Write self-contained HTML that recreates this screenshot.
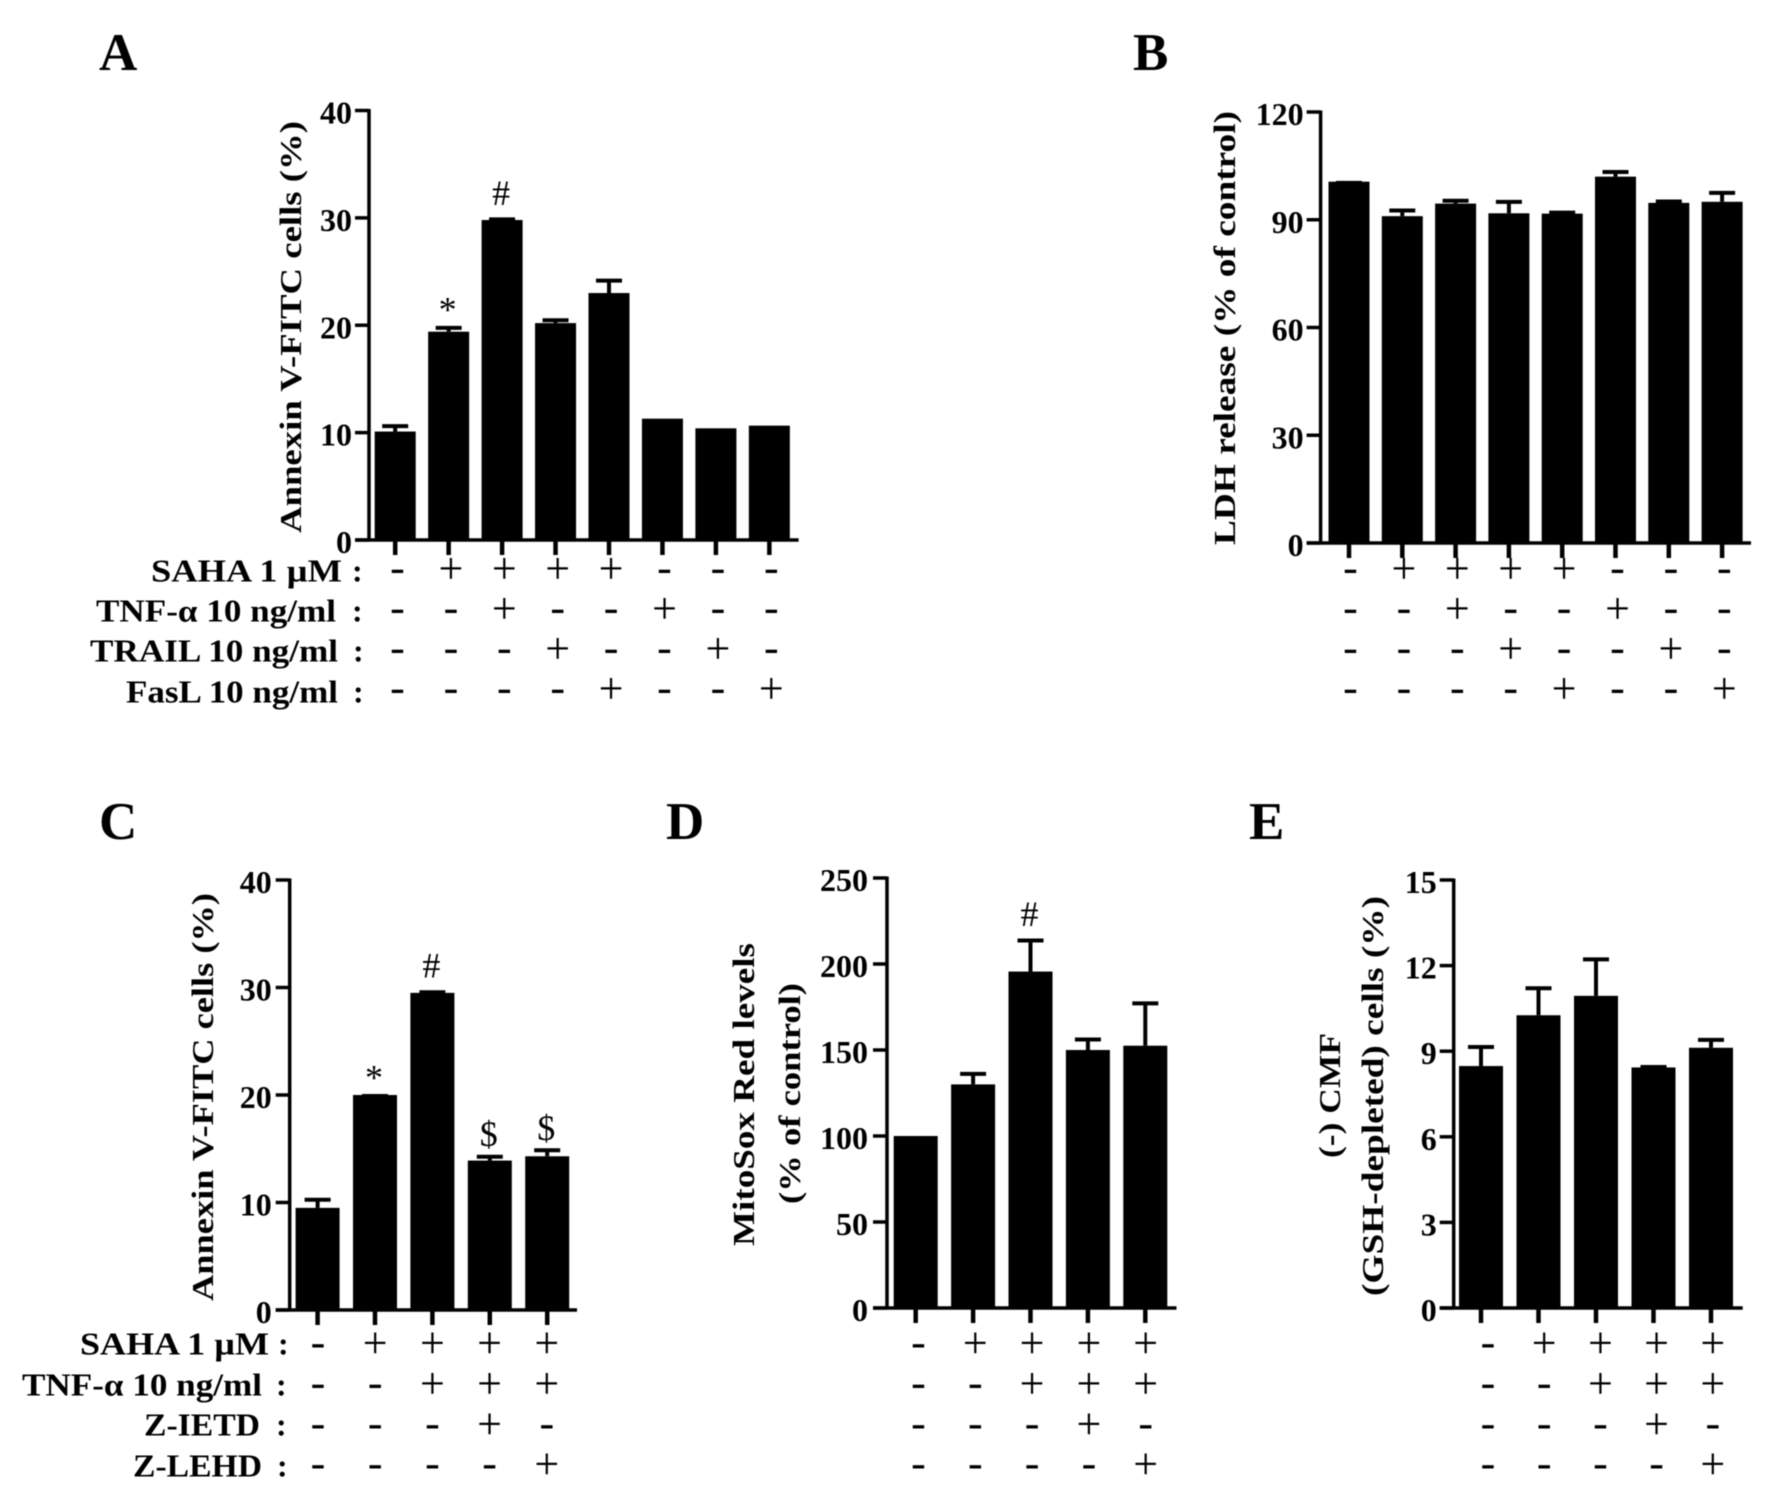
<!DOCTYPE html>
<html lang="en">
<head>
<meta charset="utf-8">
<title>Annexin V, LDH, MitoSox and CMF bar charts</title>
<style>
html,body{margin:0;padding:0;background:#fff;}
svg{display:block;filter:blur(0.5px);}
text{fill:#000;font-family:"Liberation Serif","Noto Serif CJK SC",serif;}
.t{font-weight:bold;font-size:31px;}
.r{font-weight:bold;font-size:32px;}
.l{font-weight:bold;font-size:53px;}
</style>
</head>
<body>
<svg xmlns="http://www.w3.org/2000/svg" width="1772" height="1507" viewBox="0 0 1772 1507">
  <rect width="1772" height="1507" fill="#fff"/>

  <text class="l" x="99" y="70">A</text>
  <text class="l" x="1133" y="70">B</text>
  <text class="l" x="99" y="839">C</text>
  <text class="l" x="666" y="839">D</text>
  <text class="l" x="1249" y="839">E</text>

  <text class="t" transform="translate(301,533) rotate(-90)" textLength="412" lengthAdjust="spacingAndGlyphs">Annexin V-FITC cells (%)</text>
  <text class="t" transform="translate(1235,545) rotate(-90)" textLength="434" lengthAdjust="spacingAndGlyphs">LDH release (% of control)</text>
  <text class="t" transform="translate(213,1301) rotate(-90)" textLength="408" lengthAdjust="spacingAndGlyphs">Annexin V-FITC cells (%)</text>
  <text class="t" transform="translate(754,1246) rotate(-90)" textLength="303" lengthAdjust="spacingAndGlyphs">MitoSox Red levels</text>
  <text class="t" transform="translate(800,1204) rotate(-90)" textLength="221" lengthAdjust="spacingAndGlyphs">(% of control)</text>
  <text class="t" transform="translate(1340,1158) rotate(-90)" textLength="125" lengthAdjust="spacingAndGlyphs">(-) CMF</text>
  <text class="t" transform="translate(1383,1296) rotate(-90)" textLength="400" lengthAdjust="spacingAndGlyphs">(GSH-depleted) cells (%)</text>

  <text class="r" x="151" y="581.6" textLength="191" lengthAdjust="spacingAndGlyphs">SAHA 1 µM</text>
  <text class="r" x="352" y="581.6">:</text>
  <text class="r" x="96" y="621.6" textLength="240" lengthAdjust="spacingAndGlyphs">TNF-α 10 ng/ml</text>
  <text class="r" x="352" y="621.6">:</text>
  <text class="r" x="90" y="661.6" textLength="248" lengthAdjust="spacingAndGlyphs">TRAIL 10 ng/ml</text>
  <text class="r" x="353" y="661.6">:</text>
  <text class="r" x="126" y="702.6" textLength="212" lengthAdjust="spacingAndGlyphs">FasL 10 ng/ml</text>
  <text class="r" x="353" y="702.6">:</text>

  <text class="r" x="80" y="1354.6" textLength="189" lengthAdjust="spacingAndGlyphs">SAHA 1 µM</text>
  <text class="r" x="278" y="1354.6">:</text>
  <text class="r" x="22" y="1395.6" textLength="240" lengthAdjust="spacingAndGlyphs">TNF-α 10 ng/ml</text>
  <text class="r" x="276" y="1395.6">:</text>
  <text class="r" x="144" y="1435.6" textLength="116" lengthAdjust="spacingAndGlyphs">Z-IETD</text>
  <text class="r" x="276" y="1435.6">:</text>
  <text class="r" x="133" y="1476.6" textLength="129" lengthAdjust="spacingAndGlyphs">Z-LEHD</text>
  <text class="r" x="277" y="1476.6">:</text>

  <g id="chart-root"></g>
</svg>

<script>
// Panel A
const aValues = [10.1, 19.4, 29.8, 20.2, 23.0, 11.3, 10.4, 10.65];
const aErrTops = [10.75, 19.9, 30, 20.6, 24.3, 11.3, 10.4, 10.65];
const aNotes = ["", "*", "#", "", "", "", "", ""];
const aTicks = [0, 10, 20, 30, 40];
// Panel B
const bValues = [100.6, 91, 94.5, 91.8, 91.7, 102, 94.7, 95];
const bErrTops = [100.7, 93, 95.7, 95.4, 92.4, 103.7, 95.5, 97.9];
const bNotes = ["", "", "", "", "", "", "", ""];
const bTicks = [0, 30, 60, 90, 120];
// Panel C
const cValues = [9.5, 20, 29.5, 13.9, 14.3];
const cErrTops = [10.4, 20.05, 29.7, 14.4, 15];
const cNotes = ["", "*", "#", "$", "$"];
const cTicks = [0, 10, 20, 30, 40];
// Panel D
const dValues = [100, 130, 195.6, 150, 152.5];
const dErrTops = [100, 137, 214.5, 157, 178];
const dNotes = ["", "", "#", "", ""];
const dTicks = [0, 50, 100, 150, 200, 250];
// Panel E
const eValues = [8.48, 10.26, 10.94, 8.43, 9.12];
const eErrTops = [9.2, 11.26, 12.27, 8.5, 9.45];
const eNotes = ["", "", "", "", ""];
const eTicks = [0, 3, 6, 9, 12, 15];
// Treatment matrices
const abRows = [
  ["-", "+", "+", "+", "+", "-", "-", "-"],
  ["-", "-", "+", "-", "-", "+", "-", "-"],
  ["-", "-", "-", "+", "-", "-", "+", "-"],
  ["-", "-", "-", "-", "+", "-", "-", "+"]
];
const cdeRows = [
  ["-", "+", "+", "+", "+"],
  ["-", "-", "+", "+", "+"],
  ["-", "-", "-", "+", "-"],
  ["-", "-", "-", "-", "+"]
];

const NS = "http://www.w3.org/2000/svg";
const root = document.getElementById("chart-root");
const noteLift = {"*": 5, "#": 13, "$": 9};

function mk(tag, parent, props) {
  const el = document.createElementNS(NS, tag);
  for (const k in props) el.setAttribute(k, props[k]);
  parent.appendChild(el);
  return el;
}

function drawPanel(id, frame, values, errTops, notes, ticks, rows) {
  const g = mk("g", root, {});
  
  
  const maxV = ticks[ticks.length - 1];
  const y = v => frame.bottom - (v / maxV) * (frame.bottom - frame.top);
  const x = i => frame.x0 + i * frame.step;

  values.forEach((v, i) => {
    const bar = mk("rect", g, {x: x(i) - frame.barW / 2, y: y(v), width: frame.barW, height: frame.bottom - y(v), fill: "#000"});
    
    
    if (errTops[i] > v) {
      const stem = mk("line", g, {x1: x(i), x2: x(i), y1: y(v), y2: y(errTops[i]), stroke: "#000", "stroke-width": 4});
      
      
      const cap = mk("line", g, {x1: x(i) - 13, x2: x(i) + 13, y1: y(errTops[i]) + 1.5, y2: y(errTops[i]) + 1.5, stroke: "#000", "stroke-width": 4});
      
      
    }
    if (notes[i]) {
      const n = mk("text", g, {x: x(i) - 1, y: y(Math.max(v, errTops[i])) - noteLift[notes[i]], "text-anchor": "middle", "font-size": 36});
      n.textContent = notes[i];
      
      
    }
    const xt = mk("line", g, {x1: x(i), x2: x(i), y1: frame.bottom, y2: frame.bottom + 15, stroke: "#000", "stroke-width": 4.5});
    
    
  });

  const yAxis = mk("line", g, {x1: frame.axisX, x2: frame.axisX, y1: frame.top - 1.5, y2: frame.bottom + 1.5, stroke: "#000", "stroke-width": 3.5});
  
  
  const xAxis = mk("line", g, {x1: frame.axisX - 14, x2: frame.right, y1: frame.bottom, y2: frame.bottom, stroke: "#000", "stroke-width": 3.5});
  
  

  ticks.forEach(t => {
    const tk = mk("line", g, {x1: frame.axisX - 14, x2: frame.axisX, y1: y(t), y2: y(t), stroke: "#000", "stroke-width": 3.5});
    
    
    const lb = mk("text", g, {x: frame.axisX - frame.labelGap, y: y(t) + 13, "text-anchor": "end", "font-size": frame.tickFont, "font-weight": "bold"});
    lb.textContent = t;
    
    
  });

  rows.forEach((row, r) => {
    row.forEach((sym, i) => {
      const plus = sym === "+";
      const cy = frame.rowY + r * frame.rowStep;
      const s = mk("text", g, {x: frame.symX + i * frame.symStep, y: cy + (plus ? 11 : 10), "text-anchor": "middle", "font-size": plus ? 44 : 44});
      s.textContent = sym;
      
      
    });
  });
}

drawPanel("a", {axisX: 369, top: 110.5, bottom: 540, right: 798.6, x0: 395.2, step: 53.45, barW: 41, symX: 397.5, symStep: 53.4, rowY: 572, rowStep: 40, tickFont: 32, labelGap: 17}, aValues, aErrTops, aNotes, aTicks, abRows);
drawPanel("b", {axisX: 1320.6, top: 112, bottom: 543, right: 1751, x0: 1349, step: 53.3, barW: 41, symX: 1350.5, symStep: 53.4, rowY: 572, rowStep: 40, tickFont: 32, labelGap: 17}, bValues, bErrTops, bNotes, bTicks, abRows);
drawPanel("c", {axisX: 289.7, top: 880, bottom: 1310, right: 577, x0: 317.6, step: 57.4, barW: 44, symX: 318, symStep: 57.2, rowY: 1346.7, rowStep: 40.3, tickFont: 32, labelGap: 18}, cValues, cErrTops, cNotes, cTicks, cdeRows);
drawPanel("d", {axisX: 887, top: 878, bottom: 1308, right: 1176.5, x0: 915.7, step: 57.4, barW: 44, symX: 918.5, symStep: 56.8, rowY: 1346.7, rowStep: 40.3, tickFont: 32, labelGap: 19}, dValues, dErrTops, dNotes, dTicks, cdeRows);
drawPanel("e", {axisX: 1453.7, top: 880, bottom: 1308, right: 1742.7, x0: 1481, step: 57.5, barW: 44, symX: 1488, symStep: 56.2, rowY: 1346.7, rowStep: 40.3, tickFont: 32, labelGap: 17}, eValues, eErrTops, eNotes, eTicks, cdeRows);
</script>
</body>
</html>
